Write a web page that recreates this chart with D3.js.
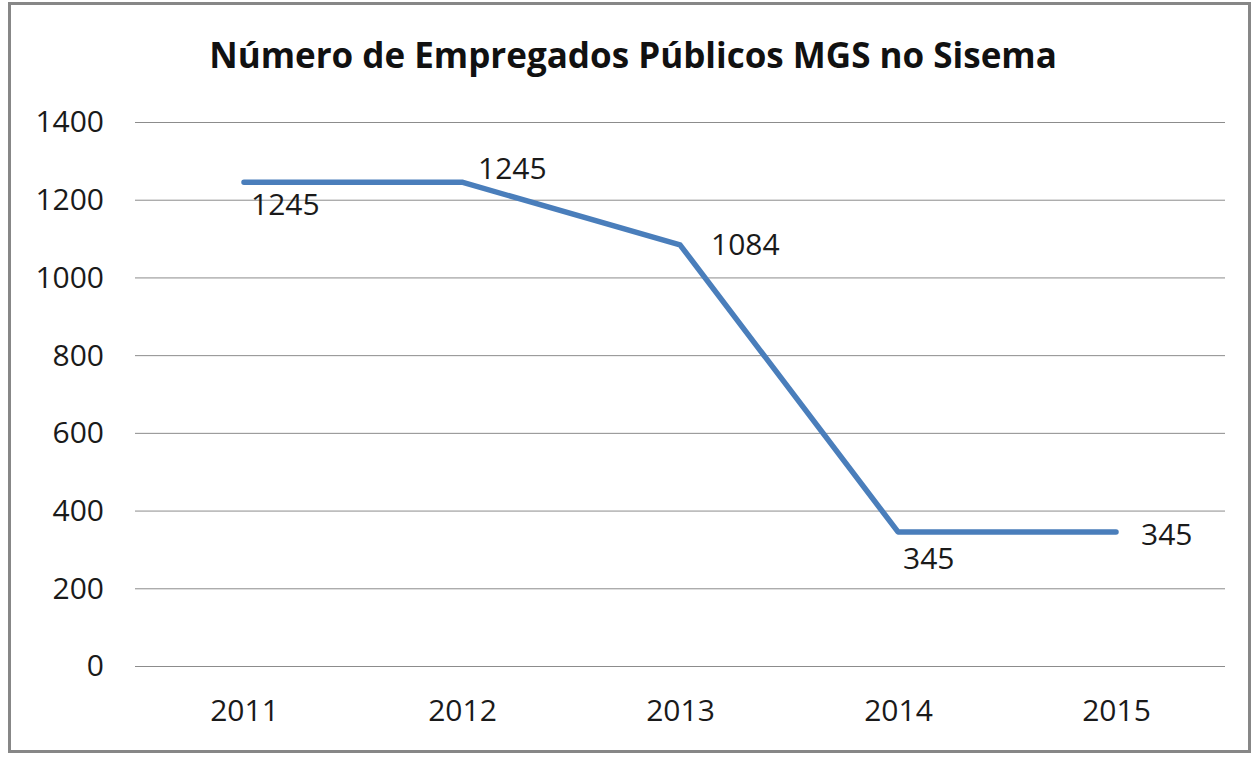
<!DOCTYPE html>
<html>
<head>
<meta charset="utf-8">
<script src="https://cdn.jsdelivr.net/npm/d3@7"></script>
<style>
  body { margin: 0; background: #fff; }
  svg { display: block; font-family: "Open Sans", sans-serif; }
</style>
</head>
<body>
<svg id="chart" width="1259" height="757"></svg>
<script>
const title = "Número de Empregados Públicos MGS no Sisema";
const years = ["2011", "2012", "2013", "2014", "2015"];
const employees = [1245, 1245, 1084, 345, 345];
const yTicks = [0, 200, 400, 600, 800, 1000, 1200, 1400];
// label nudge from each point (dx, dy), like the Excel auto placement
const labelOffset = [[7, 33], [16, -3], [31, 10], [5, 37], [25, 13]];

const svg = d3.select("#chart");
const plotLeft = 135, plotRight = 1225, plotTop = 122, plotBottom = 666;
const font = "'Open Sans', sans-serif";
const fontSize = 30;

// outer frame
svg.append("rect")
    .attr("x", 9.5).attr("y", 3.5)
    .attr("width", 1240).attr("height", 748)
    .attr("fill", "#fff")
    .attr("stroke", "#878787")
    .attr("stroke-width", 3);

const x = d3.scalePoint().domain(years).range([plotLeft, plotRight]).padding(0.5);
const y = d3.scaleLinear().domain([0, 1400]).range([plotBottom, plotTop]);

// gridlines + y labels
const yAxis = svg.append("g")
    .attr("transform", `translate(${plotLeft},0)`)
    .call(d3.axisLeft(y).tickValues(yTicks).tickFormat(d3.format("d"))
        .tickSize(-(plotRight - plotLeft)).tickPadding(31))
    .attr("font-family", font)
    .attr("font-size", fontSize);
yAxis.select(".domain").remove();
yAxis.selectAll(".tick line").attr("stroke", "#8c8c8c").attr("stroke-width", 1);
yAxis.selectAll(".tick text")
    .attr("fill", "#1a1a1a")
    .attr("dy", "0.33em");

// x labels
const xAxis = svg.append("g")
    .attr("transform", `translate(0,${plotBottom})`)
    .call(d3.axisBottom(x).tickSize(0).tickPadding(0))
    .attr("font-family", font)
    .attr("font-size", fontSize);
xAxis.select(".domain").remove();
xAxis.selectAll(".tick text")
    .attr("fill", "#1a1a1a")
    .attr("y", 55)
    .attr("dy", 0);

// line
const pts = years.map((d, i) => ({year: d, value: employees[i], off: labelOffset[i]}));
svg.append("path")
    .datum(pts)
    .attr("fill", "none")
    .attr("stroke", "#4a7ebb")
    .attr("stroke-width", 5.5)
    .attr("stroke-linecap", "round")
    .attr("stroke-linejoin", "round")
    .attr("d", d3.line().x(d => x(d.year)).y(d => y(d.value)));

// data labels
svg.selectAll("text.lbl")
    .data(pts)
    .join("text")
    .classed("lbl", true)
    .attr("x", d => x(d.year) + d.off[0])
    .attr("y", d => y(d.value) + d.off[1])
    .attr("fill", "#1a1a1a")
    .style("font-size", fontSize + "px")
    .text(d => d.value);

// title, scaled to the reference width
const t = svg.append("text")
    .attr("x", 633).attr("y", 68)
    .attr("text-anchor", "middle")
    .attr("fill", "#111")
    .style("font-weight", "bold")
    .style("font-size", "32px")
    .text(title);
const w = t.node().getComputedTextLength();
t.style("font-size", (32 * 847 / w).toFixed(1) + "px");
</script>
</body>
</html>
